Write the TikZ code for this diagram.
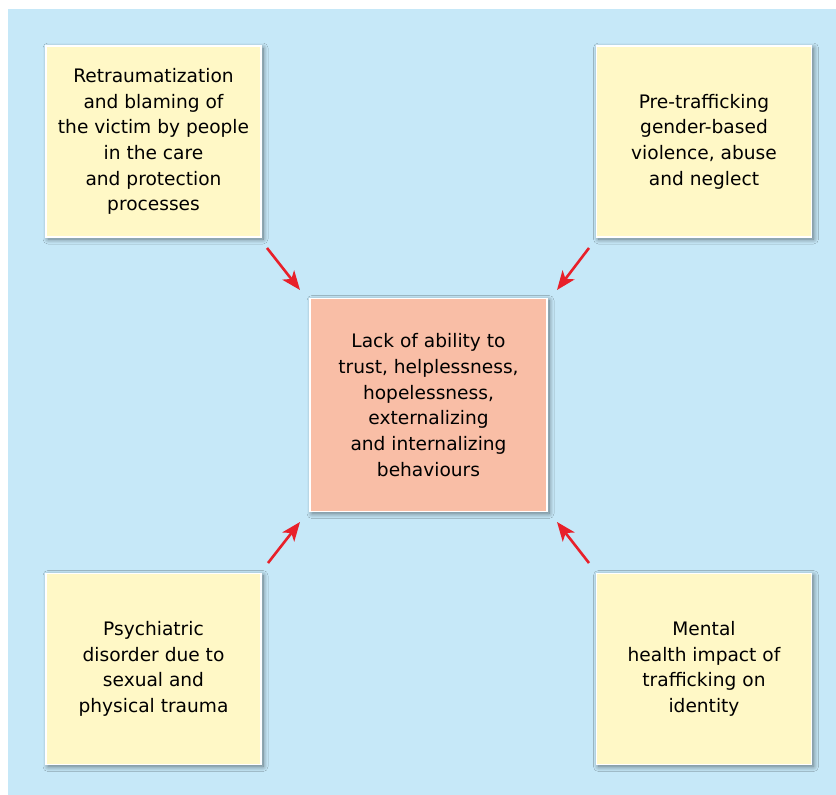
\documentclass[tikz,border=0pt]{standalone}
\usepackage{fontspec}
\setmainfont{DejaVu Sans}
\usetikzlibrary{arrows.meta,shadows.blur}
\definecolor{bgblue}{HTML}{C6E8F8}
\definecolor{boxyellow}{HTML}{FFF8C6}
\definecolor{boxsalmon}{HTML}{F9BEA6}
\definecolor{arrred}{HTML}{E8202A}
\tikzset{
  card/.style={draw=white, line width=1.5pt, fill=boxyellow, align=center,
    minimum width=215pt, minimum height=191pt, inner sep=0pt,
    font=\fontsize{18.6}{25.7}\selectfont,
    blur shadow={shadow xshift=2pt, shadow yshift=-2pt, shadow blur radius=5pt, shadow blur steps=12, shadow opacity=50}},
  core/.style={card, fill=boxsalmon, minimum width=237pt, minimum height=213pt},
  redarrow/.style={draw=arrred, line width=2.6pt, -{Stealth[length=19pt,width=15pt,inset=5pt]}}
}
\begin{document}
\begin{tikzpicture}[x=1pt,y=-1pt]
\useasboundingbox (0,0) rectangle (836,795);
\fill[bgblue] (8,9) rectangle (836,795);
\node[card] (tl) at (153.5,141.5) {Retraumatization\\and blaming of\\the victim by people\\in the care\\and protection\\processes};
\node[card] (tr) at (704,141.5) {Pre-trafficking\\gender-based\\violence, abuse\\and neglect};
\node[card] (bl) at (153.5,669) {Psychiatric\\disorder due to\\sexual and\\physical trauma};
\node[card] (br) at (704,669) {Mental\\health impact of\\trafficking on\\identity};
\node[core] (c) at (428.5,405) {Lack of ability to\\trust, helplessness,\\hopelessness,\\externalizing\\and internalizing\\behaviours};
\coordinate (tls) at (267,248);
\coordinate (tle) at (300,290);
\coordinate (trs) at (589,248);
\coordinate (tre) at (557,290);
\coordinate (bls) at (268,563);
\coordinate (ble) at (300,522);
\coordinate (brs) at (589,563);
\coordinate (bre) at (557,522);
\draw[redarrow] (tls) -- (tle);
\draw[redarrow] (trs) -- (tre);
\draw[redarrow] (bls) -- (ble);
\draw[redarrow] (brs) -- (bre);
\end{tikzpicture}
\end{document}
